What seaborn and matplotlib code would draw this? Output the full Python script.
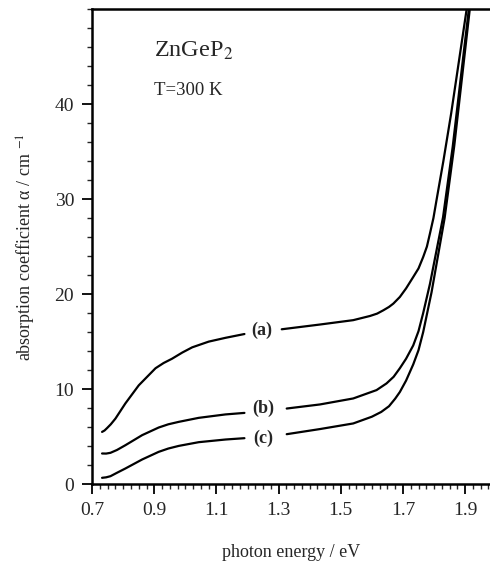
import numpy as np
import pandas as pd
import seaborn as sns
import matplotlib.pyplot as plt
from matplotlib.ticker import MultipleLocator

# Data (photon energy in eV, absorption in cm^-1)
# each curve is split in two where its label sits
a_x1 = [0.732, 0.74, 0.748, 0.76, 0.775, 0.807, 0.85, 0.904, 0.93, 0.957, 0.99,
        1.022, 1.075, 1.129, 1.19]
a_y1 = [5.5, 5.65, 5.9, 6.3, 6.9, 8.5, 10.4, 12.2, 12.75, 13.2, 13.85,
        14.4, 15.0, 15.4, 15.8]
a_x2 = [1.31, 1.433, 1.54, 1.594, 1.617, 1.637, 1.655, 1.669, 1.69, 1.71, 1.733,
        1.75, 1.765, 1.777, 1.787, 1.798, 1.808, 1.83, 1.855, 1.88, 1.905]
a_y2 = [16.3, 16.8, 17.26, 17.7, 17.95, 18.3, 18.65, 19.0, 19.7, 20.6, 21.8,
        22.7, 23.9, 25.0, 26.4, 28.0, 29.9, 34.0, 39.0, 44.5, 50.0]

b_x1 = [0.732, 0.745, 0.759, 0.78, 0.807, 0.861, 0.914, 0.945, 0.979, 1.043,
        1.129, 1.19]
b_y1 = [3.23, 3.22, 3.3, 3.6, 4.1, 5.16, 5.96, 6.3, 6.56, 6.98, 7.34, 7.5]
b_x2 = [1.326, 1.433, 1.54, 1.615, 1.647, 1.67, 1.69, 1.71, 1.733, 1.75, 1.765,
        1.787, 1.808, 1.829, 1.86, 1.885, 1.912]
b_y2 = [7.96, 8.39, 9.02, 9.9, 10.6, 11.3, 12.2, 13.2, 14.6, 16.1, 18.0,
        21.1, 24.6, 28.1, 35.5, 42.5, 50.0]

c_x1 = [0.732, 0.745, 0.759, 0.78, 0.807, 0.861, 0.914, 0.945, 0.979, 1.043,
        1.129, 1.19]
c_y1 = [0.67, 0.72, 0.84, 1.2, 1.65, 2.6, 3.4, 3.75, 4.03, 4.42, 4.7, 4.84]
c_x2 = [1.326, 1.433, 1.54, 1.6, 1.63, 1.655, 1.675, 1.69, 1.71, 1.733, 1.75,
        1.765, 1.792, 1.813, 1.834, 1.865, 1.89, 1.915]
c_y2 = [5.26, 5.8, 6.39, 7.1, 7.6, 8.2, 9.0, 9.7, 10.9, 12.6, 14.1,
        16.0, 20.2, 24.1, 28.0, 35.6, 42.8, 50.0]

labels = ['(a)', '(b)', '(c)']
label_x = [1.247, 1.25, 1.25]
label_y = [16.2, 8.0, 4.8]

xticks = [0.7, 0.9, 1.1, 1.3, 1.5, 1.7, 1.9]
yticks = [0, 10, 20, 30, 40]

sns.set_style('ticks')
plt.rcParams['font.family'] = ['Liberation Serif', 'DejaVu Serif']
plt.rcParams['mathtext.fontset'] = 'stix'

segments = [(a_x1, a_y1), (a_x2, a_y2), (b_x1, b_y1), (b_x2, b_y2),
            (c_x1, c_y1), (c_x2, c_y2)]

fig = plt.figure(figsize=(4.9, 5.63), dpi=100)
ax = fig.add_axes([0.188, 0.140, 0.812, 0.844])

for xs, ys in segments:
    seg = pd.DataFrame({'energy': xs, 'alpha': ys})
    sns.lineplot(data=seg, x='energy', y='alpha', ax=ax, color='black',
                 linewidth=1.6, sort=False, estimator=None)

for lab, lx, ly in zip(labels, label_x, label_y):
    ax.text(lx, ly, lab, ha='center', va='center', fontsize=13, fontweight='bold')

ax.text(0.9, 45.0, 'ZnGeP$_2$', fontsize=17.5, va='baseline')
ax.text(0.9, 41.0, 'T=300 K', fontsize=13.5, va='baseline')

ax.set_xlim(0.7, 1.98)
ax.set_ylim(0, 50)
ax.set_xticks(xticks)
ax.set_xticklabels([f'{t:.1f}' for t in xticks])
ax.set_yticks(yticks)
ax.xaxis.set_minor_locator(MultipleLocator(0.025))
ax.yaxis.set_minor_locator(MultipleLocator(2))
ax.tick_params(axis='both', which='major', labelsize=14, length=7, width=1.3,
               direction='out', color='black', pad=6)
ax.tick_params(axis='both', which='minor', length=3.5, width=1.0, direction='out')

ax.set_xlabel('photon energy / eV', fontsize=13, labelpad=18)
ax.set_ylabel('absorption coefficient α / cm $^{-1}$', fontsize=13, labelpad=12)

ax.spines['right'].set_visible(False)
for side in ['left', 'bottom', 'top']:
    ax.spines[side].set_linewidth(1.8)
    ax.spines[side].set_color('black')

fig.savefig('out.png', dpi=100)
